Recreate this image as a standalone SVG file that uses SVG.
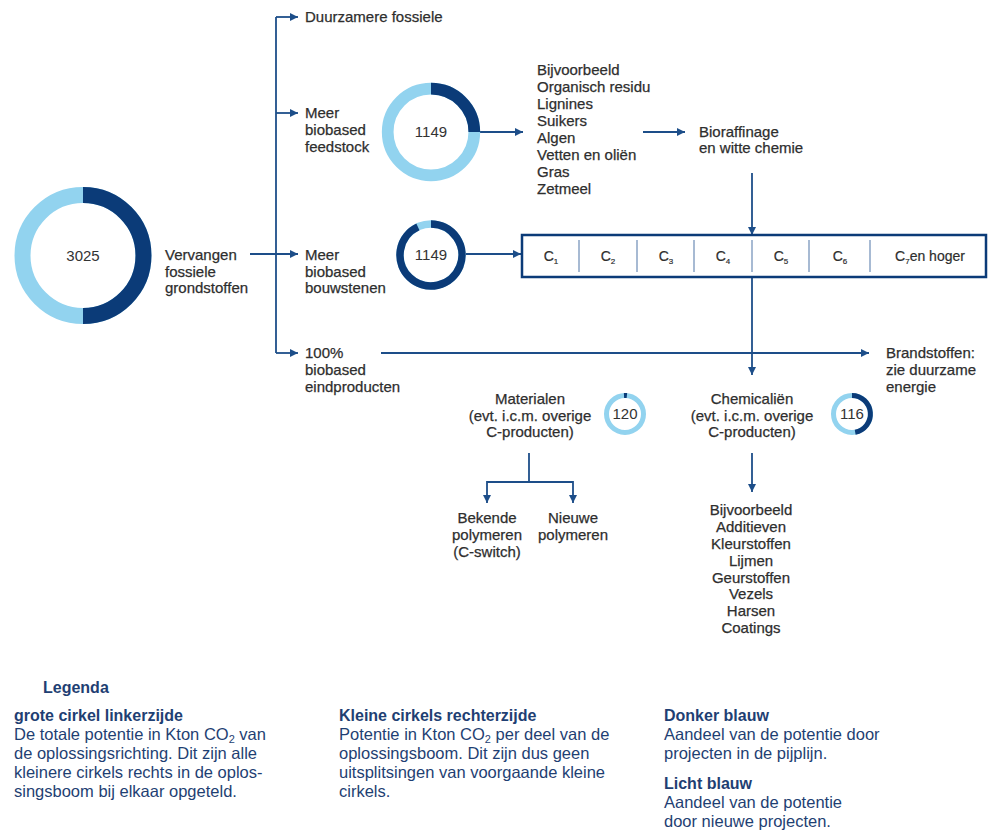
<svg xmlns="http://www.w3.org/2000/svg" width="989" height="834" viewBox="0 0 989 834">
<style>
.t{font-family:"Liberation Sans",Arial,sans-serif;font-size:15px;fill:#2e2e2e;stroke:#2e2e2e;stroke-width:0.25}
.c{text-anchor:middle}
.num{font-family:"Liberation Sans",Arial,sans-serif;font-size:15px;fill:#333;text-anchor:middle}
.cell{font-family:"Liberation Sans",Arial,sans-serif;font-size:14px;fill:#2e2e2e;stroke:#2e2e2e;stroke-width:0.2;text-anchor:middle}
.conn{fill:none;stroke:#1d4e89;stroke-width:1.8}
.light{fill:none;stroke:#92d3ef}
.dark{fill:none;stroke:#0b3b78}
.lg{font-family:"Liberation Sans",Arial,sans-serif;font-size:16.5px;fill:#1f3f73}
.lgb{font-family:"Liberation Sans",Arial,sans-serif;font-size:16px;fill:#1f3f73;font-weight:bold}
.div{stroke:#8aa3c4;stroke-width:1.5}
</style>
<defs>
<marker id="ah" markerUnits="userSpaceOnUse" markerWidth="9" markerHeight="8" refX="8" refY="4" orient="auto">
<path d="M0,0 L8,4 L0,8 z" fill="#1d4e89"/>
</marker>
</defs>
<rect width="989" height="834" fill="#fff"/>

<g id="connectors">
<path class="conn" d="M276 17 V353"/>
<path class="conn" d="M276 17 H298" marker-end="url(#ah)"/>
<path class="conn" d="M276 113 H298" marker-end="url(#ah)"/>
<path class="conn" d="M250 254 H298" marker-end="url(#ah)"/>
<path class="conn" d="M276 353 H298" marker-end="url(#ah)"/>
<path class="conn" d="M480 132 H523" marker-end="url(#ah)"/>
<path class="conn" d="M643 132 H685" marker-end="url(#ah)"/>
<path class="conn" d="M752 173 V235" marker-end="url(#ah)"/>
<path class="conn" d="M466 254 H521" marker-end="url(#ah)"/>
<path class="conn" d="M752 277 V375" marker-end="url(#ah)"/>
<path class="conn" d="M381 353 H869" marker-end="url(#ah)"/>
<path class="conn" d="M529 453 V482"/>
<path class="conn" d="M529 482 H487 V503" marker-end="url(#ah)"/>
<path class="conn" d="M529 482 H573 V503" marker-end="url(#ah)"/>
<path class="conn" d="M752 453 V492" marker-end="url(#ah)"/>
</g>

<g id="ring-total">
<circle class="light" cx="83" cy="255.5" r="60.5" stroke-width="16"/>
<path class="dark" stroke-width="16" d="M83 195 A60.5 60.5 0 0 1 83 316"/>
<text class="num" x="83" y="261" font-size="16">3025</text>
</g>

<g id="vervangen">
<text class="t" x="165" y="260">Vervangen</text>
<text class="t" x="165" y="277">fossiele</text>
<text class="t" x="165" y="293">grondstoffen</text>
</g>

<g id="duurzamere">
<text class="t" x="305" y="22">Duurzamere fossiele</text>
</g>

<g id="feedstock">
<text class="t" x="305" y="118">Meer</text>
<text class="t" x="305" y="135">biobased</text>
<text class="t" x="305" y="152">feedstock</text>
</g>

<g id="ring-feedstock">
<circle class="light" cx="431" cy="132" r="43.3" stroke-width="11.7"/>
<path class="dark" stroke-width="11.7" d="M431 88.7 A43.3 43.3 0 0 1 474.3 132"/>
<text class="num" x="431" y="137">1149</text>
</g>

<g id="voorbeelden">
<text class="t" x="537" y="75">Bijvoorbeeld</text>
<text class="t" x="537" y="92">Organisch residu</text>
<text class="t" x="537" y="109">Lignines</text>
<text class="t" x="537" y="126">Suikers</text>
<text class="t" x="537" y="143">Algen</text>
<text class="t" x="537" y="160">Vetten en oliën</text>
<text class="t" x="537" y="177">Gras</text>
<text class="t" x="537" y="194">Zetmeel</text>
</g>

<g id="bioraffinage">
<text class="t" x="699" y="137">Bioraffinage</text>
<text class="t" x="699" y="153">en witte chemie</text>
</g>

<g id="bouwstenen">
<text class="t" x="305" y="260">Meer</text>
<text class="t" x="305" y="277">biobased</text>
<text class="t" x="305" y="293">bouwstenen</text>
</g>

<g id="ring-bouwstenen">
<circle class="light" cx="431" cy="255" r="31" stroke-width="7.5"/>
<path class="dark" stroke-width="7.5" d="M431 224 A31 31 0 1 1 417.9 226.9"/>
<text class="num" x="431" y="260">1149</text>
</g>

<g id="c-box">
<rect x="522" y="235" width="464" height="42" fill="#fff" stroke="#0b3b78" stroke-width="2.5"/>
<line class="div" x1="579" y1="240" x2="579" y2="272"/>
<line class="div" x1="637" y1="240" x2="637" y2="272"/>
<line class="div" x1="694" y1="240" x2="694" y2="272"/>
<line class="div" x1="752" y1="240" x2="752" y2="272"/>
<line class="div" x1="809" y1="240" x2="809" y2="272"/>
<line class="div" x1="870" y1="240" x2="870" y2="272"/>
<text class="cell" x="551" y="261">C<tspan font-size="8" dy="3">1</tspan></text>
<text class="cell" x="608" y="261">C<tspan font-size="8" dy="3">2</tspan></text>
<text class="cell" x="666" y="261">C<tspan font-size="8" dy="3">3</tspan></text>
<text class="cell" x="723" y="261">C<tspan font-size="8" dy="3">4</tspan></text>
<text class="cell" x="781" y="261">C<tspan font-size="8" dy="3">5</tspan></text>
<text class="cell" x="840" y="261">C<tspan font-size="8" dy="3">6</tspan></text>
<text class="cell" x="930" y="261">C<tspan font-size="8" dy="3">7</tspan><tspan dy="-3">en hoger</tspan></text>
</g>

<g id="eindproducten">
<text class="t" x="305" y="358">100%</text>
<text class="t" x="305" y="375">biobased</text>
<text class="t" x="305" y="392">eindproducten</text>
</g>

<g id="brandstoffen">
<text class="t" x="886" y="358">Brandstoffen:</text>
<text class="t" x="886" y="375">zie duurzame</text>
<text class="t" x="886" y="392">energie</text>
</g>

<g id="materialen">
<text class="t c" x="530" y="404">Materialen</text>
<text class="t c" x="530" y="421">(evt. i.c.m. overige</text>
<text class="t c" x="530" y="437">C-producten)</text>
</g>

<g id="ring-materialen">
<circle class="light" cx="625" cy="414" r="18.5" stroke-width="5"/>
<path class="dark" stroke-width="5" d="M624 395.5 A18.5 18.5 0 0 1 626.9 395.6"/>
<text class="num" x="625" y="419">120</text>
</g>

<g id="chemicalien">
<text class="t c" x="752" y="404">Chemicaliën</text>
<text class="t c" x="752" y="421">(evt. i.c.m. overige</text>
<text class="t c" x="752" y="437">C-producten)</text>
</g>

<g id="ring-chemicalien">
<circle class="light" cx="852" cy="414" r="18.5" stroke-width="5"/>
<path class="dark" stroke-width="5" d="M852 395.5 A18.5 18.5 0 0 1 855.2 432.2"/>
<text class="num" x="852" y="419">116</text>
</g>

<g id="bekende">
<text class="t c" x="487" y="523">Bekende</text>
<text class="t c" x="487" y="540">polymeren</text>
<text class="t c" x="487" y="557">(C-switch)</text>
</g>

<g id="nieuwe">
<text class="t c" x="573" y="523">Nieuwe</text>
<text class="t c" x="573" y="540">polymeren</text>
</g>

<g id="chem-voorbeelden">
<text class="t c" x="751" y="515">Bijvoorbeeld</text>
<text class="t c" x="751" y="532">Additieven</text>
<text class="t c" x="751" y="549">Kleurstoffen</text>
<text class="t c" x="751" y="566">Lijmen</text>
<text class="t c" x="751" y="583">Geurstoffen</text>
<text class="t c" x="751" y="599">Vezels</text>
<text class="t c" x="751" y="616">Harsen</text>
<text class="t c" x="751" y="633">Coatings</text>
</g>

<g id="legenda">
<text class="lgb" x="43" y="693">Legenda</text>
<text class="lgb" x="14" y="721">grote cirkel linkerzijde</text>
<text class="lg" x="14" y="740">De totale potentie in Kton CO<tspan font-size="11" dy="3">2</tspan><tspan dy="-3"> van</tspan></text>
<text class="lg" x="14" y="759">de oplossingsrichting. Dit zijn alle</text>
<text class="lg" x="14" y="778">kleinere cirkels rechts in de oplos-</text>
<text class="lg" x="14" y="797">singsboom bij elkaar opgeteld.</text>
<text class="lgb" x="339" y="721">Kleine cirkels rechterzijde</text>
<text class="lg" x="339" y="740">Potentie in Kton CO<tspan font-size="11" dy="3">2</tspan><tspan dy="-3"> per deel van de</tspan></text>
<text class="lg" x="339" y="759">oplossingsboom. Dit zijn dus geen</text>
<text class="lg" x="339" y="778">uitsplitsingen van voorgaande kleine</text>
<text class="lg" x="339" y="797">cirkels.</text>
<text class="lgb" x="664" y="721">Donker blauw</text>
<text class="lg" x="664" y="740">Aandeel van de potentie door</text>
<text class="lg" x="664" y="759">projecten in de pijplijn.</text>
<text class="lgb" x="664" y="789">Licht blauw</text>
<text class="lg" x="664" y="808">Aandeel van de potentie</text>
<text class="lg" x="664" y="827">door nieuwe projecten.</text>
</g>
</svg>
